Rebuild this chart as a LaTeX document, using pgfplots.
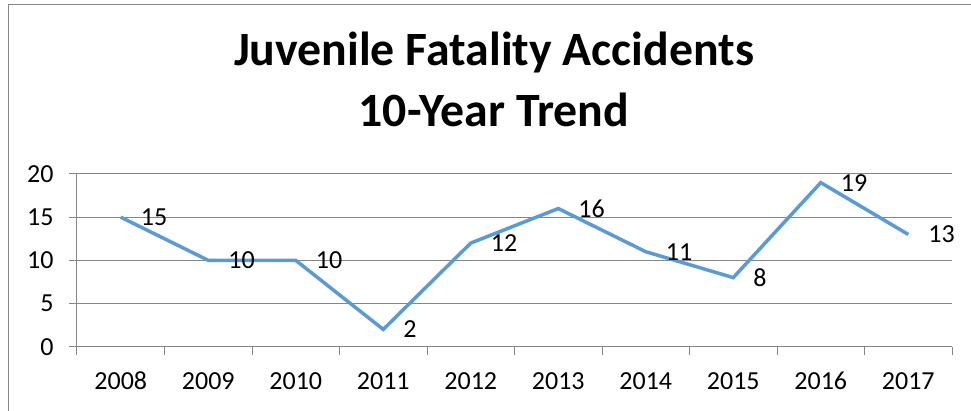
\documentclass[border=0pt]{standalone}
\usepackage{pgfplots}
\pgfplotsset{compat=1.18}
\usepackage{fontspec}
\setmainfont{Carlito}
\definecolor{linec}{HTML}{5B9BD5}
\definecolor{gridc}{HTML}{868686}
\begin{document}
\begin{tikzpicture}[x=1pt,y=1pt,font=\fontsize{26}{30}\selectfont]
\path[use as bounding box] (0,0) rectangle (971,411);
\draw[gridc, line width=1pt] (8,0) -- (8,406) -- (971,406);
\node[font=\bfseries\fontsize{47.8}{56}\selectfont] at (494,359) {Juvenile Fatality Accidents};
\node[font=\bfseries\fontsize{47.8}{56}\selectfont] at (494,301) {10-Year Trend};
\begin{axis}[
  at={(77pt,64.3pt)}, anchor=south west,
  scale only axis, width=875pt, height=172.7pt,
  xmin=0, xmax=10, ymin=0, ymax=20,
  axis x line*=bottom, axis y line*=left,
  axis line style={gridc, line width=1pt},
  xtick={0,1,...,10},
  x tick label as interval,
  xticklabels={2008,2009,2010,2011,2012,2013,2014,2015,2016,2017},
  ytick={0,5,10,15,20},
  ymajorgrids, grid style={gridc, line width=1pt},
  tick align=outside, major tick length=8pt,
  tick style={gridc, line width=1pt},
  /pgf/number format/assume math mode=true,
  xticklabel style={yshift=-14pt},
  yticklabel style={xshift=-12pt},
  nodes near coords,
  every node near coord/.append style={anchor=west, xshift=15pt, text=black},
  clip=false,
]
\addplot[linec, line width=3.5pt, mark=none] coordinates {
(0.5,15) (1.5,10) (2.5,10) (3.5,2) (4.5,12) (5.5,16) (6.5,11) (7.5,8) (8.5,19) (9.5,13)
};
\end{axis}
\end{tikzpicture}
\end{document}
